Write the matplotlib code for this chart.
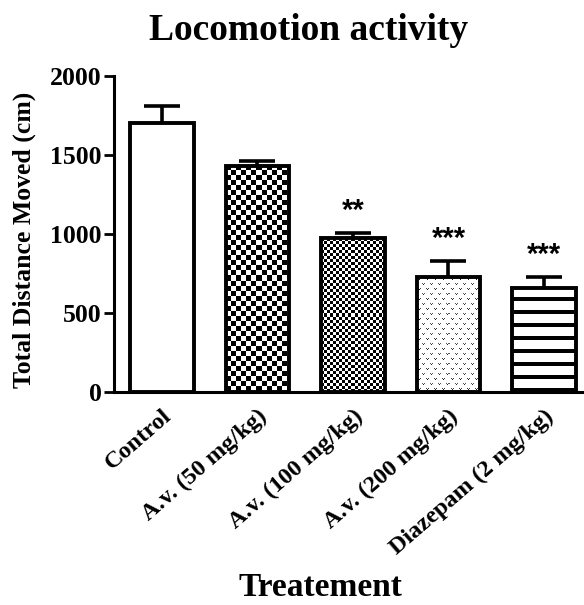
import numpy as np
import matplotlib
matplotlib.use("Agg")
import matplotlib.pyplot as plt

categories = ["Control", "A.v. (50 mg/kg)", "A.v. (100 mg/kg)", "A.v. (200 mg/kg)", "Diazepam (2 mg/kg)"]
means = [1700, 1430, 970, 725, 655]
errors = [110, 28, 32, 100, 70]
stars = ["", "", "**", "***", "***"]
yticks = [0, 500, 1000, 1500, 2000]

SERIF = ["Liberation Serif", "DejaVu Serif"]

fig = plt.figure(figsize=(5.84, 6.05), dpi=100)
ax = fig.add_axes([114 / 584, 0.3526, 1 - 114 / 584, 0.5226])

x = np.arange(len(categories))
bars = ax.bar(x, means, width=0.665, facecolor="none", edgecolor="black",
              linewidth=2.8, zorder=3)
ax.set_xlim(-0.503, 4.42)
ax.set_ylim(0, 2000)


def checker(ny, nx, c):
    i, j = np.indices((ny, nx))
    return ((i // c + j // c) % 2).astype(float)


def dots(ny, nx):
    arr = np.ones((ny, nx))
    tile = np.ones((10, 8))
    tile[1, 1] = 0.25; tile[1, 3] = 0.25; tile[2, 2] = 0.1
    tile[6, 5] = 0.35; tile[6, 7] = 0.35; tile[7, 6] = 0.15
    for r in range(ny):
        for s in range(nx):
            arr[r, s] = tile[r % 10, s % 8]
    return arr


def stripes(ny, nx):
    i, j = np.indices((ny, nx))
    return np.where((i % 13) >= 9, 0.0, 1.0)


patterns = [None,
            lambda ny, nx: checker(ny, nx, 5),
            lambda ny, nx: checker(ny, nx, 3),
            dots,
            stripes]

for b, pat in zip(bars, patterns):
    if pat is None:
        continue
    x0, w, h = b.get_x(), b.get_width(), b.get_height()
    p0 = ax.transData.transform((x0, 0))
    p1 = ax.transData.transform((x0 + w, h))
    nx = max(1, int(round(p1[0] - p0[0])))
    ny = max(1, int(round(p1[1] - p0[1])))
    arr = pat(ny, nx)
    ax.imshow(arr, cmap="gray", vmin=0, vmax=1, extent=(x0, x0 + w, 0, h),
              interpolation="nearest", aspect="auto", zorder=2)

ax.set_xlim(-0.503, 4.42)
ax.set_ylim(0, 2000)

eb = ax.errorbar(x, means, yerr=[np.zeros(len(means)), errors], fmt="none",
                 ecolor="black", elinewidth=2.6, capsize=13, capthick=2.6, zorder=4)
if len(eb[1]) >= 2:
    eb[1][0].set_visible(False)

for xi, m, e, s in zip(x, means, errors, stars):
    if s:
        ax.annotate(s, (xi, m + e), xytext=(0, 10), textcoords="offset points",
                    ha="center", va="baseline", fontsize=21, fontweight="bold",
                    family=["Liberation Sans", "DejaVu Sans"], zorder=5)

for side in ["top", "right"]:
    ax.spines[side].set_visible(False)
for side in ["left", "bottom"]:
    ax.spines[side].set_linewidth(2.2)

ax.set_yticks(yticks)
ax.set_yticklabels([str(t) for t in yticks], fontsize=18.5, fontweight="bold", family=SERIF)
ax.tick_params(axis="y", direction="out", length=7, width=2, pad=2)
ax.set_xticks(x)
ax.set_xticklabels(categories, rotation=41, ha="right", rotation_mode="anchor",
                   fontsize=17.5, fontweight="bold", family=SERIF)
ax.tick_params(axis="x", length=0, pad=10)

ax.set_ylabel("Total Distance Moved (cm)", fontsize=18.5, fontweight="bold",
              family=SERIF)
ax.yaxis.set_label_coords(-0.165, 0.48)

fig.text(309 / 584, 1 - 30 / 605, "Locomotion activity", ha="center", va="center",
         fontsize=27, fontweight="bold", family=SERIF)
fig.text(320 / 584, 1 - 588 / 605, "Treatement", ha="center", va="center",
         fontsize=24, fontweight="bold", family=SERIF)

fig.savefig("out.png", dpi=100)
